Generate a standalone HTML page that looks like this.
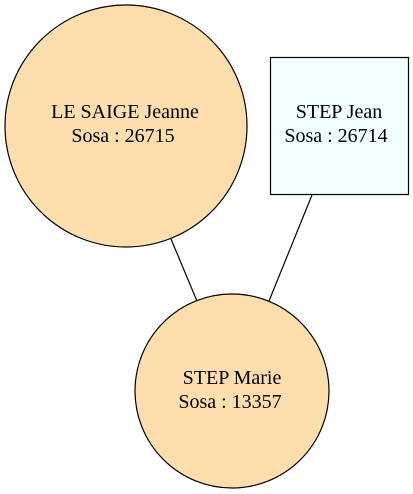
<!DOCTYPE html>
<html><head><style>body{margin:0;background:#fff}svg{display:block}</style></head>
<body>
<svg width="413" height="494" viewBox="0 0 413 494" xmlns="http://www.w3.org/2000/svg">
<line x1="171" y1="239" x2="197" y2="301" stroke="#000" stroke-width="1.2"/>
<line x1="312" y1="195" x2="269" y2="301" stroke="#000" stroke-width="1.2"/>
<circle cx="126" cy="126" r="121" fill="#FFDEAD" stroke="#000" stroke-width="1.2"/>
<rect x="270.5" y="57.5" width="138" height="137" fill="#F0FFFF" stroke="#000" stroke-width="1.2"/>
<circle cx="232" cy="391" r="97" fill="#FFDEAD" stroke="#000" stroke-width="1.2"/>
<g text-anchor="middle" fill="#000" font-family="'Liberation Serif', serif" font-size="20">
<text x="125" y="118">LE SAIGE Jeanne</text>
<text x="123" y="142">Sosa : 26715</text>
<text x="339" y="118">STEP Jean</text>
<text x="336" y="142">Sosa : 26714</text>
<text x="232" y="384">STEP Marie</text>
<text x="230" y="408">Sosa : 13357</text>
</g>
</svg>
</body></html>
